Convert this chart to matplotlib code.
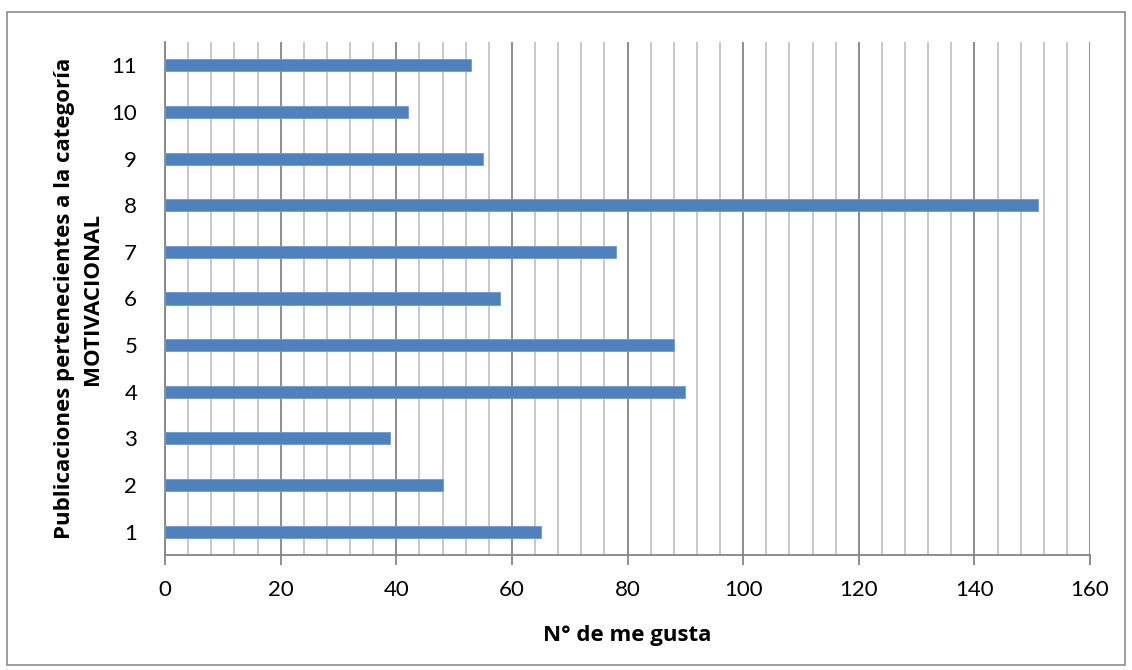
import matplotlib.pyplot as plt
from matplotlib.patches import Rectangle
from matplotlib.ticker import MultipleLocator

publicaciones = [1, 2, 3, 4, 5, 6, 7, 8, 9, 10, 11]
me_gusta = [65, 48, 39, 90, 88, 58, 78, 151, 55, 42, 53]
x_ticks = [0, 20, 40, 60, 80, 100, 120, 140, 160]

plt.rcParams['font.family'] = ['Lato', 'DejaVu Sans']

fig = plt.figure(figsize=(11.32, 6.70), dpi=100)
ax = fig.add_axes([165 / 1132, 1 - 555 / 670, (1090 - 165) / 1132, (555 - 42) / 670])

# outer chart frame
fig.patches.append(Rectangle((7 / 1132, 5 / 670), 1118 / 1132, 653 / 670,
                             transform=fig.transFigure, fill=False,
                             edgecolor='#8c8c8c', linewidth=1.2))

ax.barh(publicaciones, me_gusta, height=0.26, color='#4f81bd',
        edgecolor='#6f9bd0', linewidth=0.6, zorder=3)

ax.set_xlim(0, 160)
ax.set_ylim(0.5, 11.5)
ax.set_xticks(x_ticks)
ax.xaxis.set_minor_locator(MultipleLocator(4))
ax.set_yticks(publicaciones)

ax.grid(which='minor', axis='x', color='#c4c4c4', linewidth=1.3, zorder=0)
ax.grid(which='major', axis='x', color='#858585', linewidth=1.3, zorder=1)
ax.set_axisbelow(True)

for s in ['top', 'right']:
    ax.spines[s].set_visible(False)
ax.spines['left'].set_color('#858585')
ax.spines['left'].set_linewidth(1.3)
ax.spines['bottom'].set_color('#858585')
ax.spines['bottom'].set_linewidth(1.3)

ax.tick_params(axis='x', which='major', length=7, width=1.3, color='#858585',
               labelsize=16, pad=11)
ax.tick_params(axis='x', which='minor', length=0)
ax.tick_params(axis='y', length=0, labelsize=16, pad=20)

label_font = {'family': ['Open Sans', 'DejaVu Sans'], 'fontweight': 'bold', 'fontsize': 16}
ax.set_xlabel('N° de me gusta', labelpad=18, **label_font)
ax.set_ylabel('Publicaciones pertenecientes a la categoría\nMOTIVACIONAL',
              labelpad=6, linespacing=1.45, **label_font)

fig.savefig('out.png', dpi=100)
